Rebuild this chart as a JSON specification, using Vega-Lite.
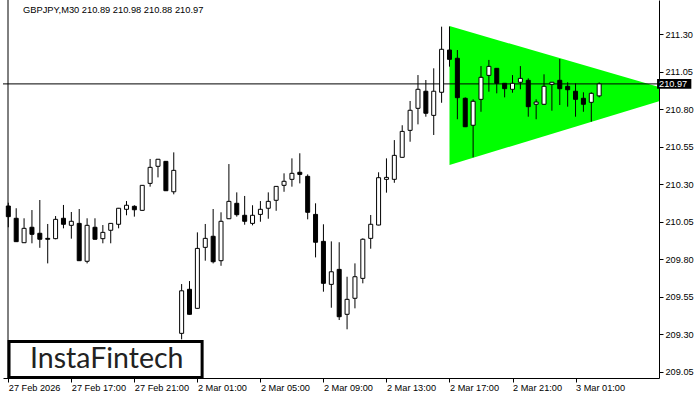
{
  "$schema": "https://vega.github.io/schema/vega-lite/v6.json",
  "width": 656,
  "height": 378,
  "autosize": {"type": "none"},
  "padding": {"left": 3, "top": 0, "right": 41, "bottom": 22},
  "background": "white",
  "config": {"view": {"stroke": null}},
  "datasets": {
    "candles": [
      {"b":0,"o":210.155,"h":210.177,"l":210.013,"c":210.084},
      {"b":1,"o":210.073,"h":210.140,"l":209.915,"c":209.917},
      {"b":2,"o":209.910,"h":210.073,"l":209.908,"c":210.006},
      {"b":3,"o":210.013,"h":210.128,"l":209.906,"c":209.966},
      {"b":4,"o":209.973,"h":210.195,"l":209.876,"c":209.933},
      {"b":5,"o":209.939,"h":210.035,"l":209.772,"c":209.933},
      {"b":6,"o":209.937,"h":210.088,"l":209.933,"c":210.066},
      {"b":7,"o":210.073,"h":210.162,"l":210.006,"c":210.033},
      {"b":8,"o":210.026,"h":210.115,"l":209.937,"c":210.053},
      {"b":9,"o":210.039,"h":210.135,"l":209.788,"c":209.790},
      {"b":10,"o":209.786,"h":210.073,"l":209.772,"c":210.026},
      {"b":11,"o":210.013,"h":210.073,"l":209.931,"c":209.933},
      {"b":12,"o":209.937,"h":210.028,"l":209.906,"c":209.979},
      {"b":13,"o":209.993,"h":210.041,"l":209.906,"c":210.039},
      {"b":14,"o":210.033,"h":210.142,"l":210.006,"c":210.140},
      {"b":15,"o":210.133,"h":210.188,"l":210.093,"c":210.160},
      {"b":16,"o":210.153,"h":210.160,"l":210.084,"c":210.130},
      {"b":17,"o":210.126,"h":210.295,"l":210.124,"c":210.293},
      {"b":18,"o":210.306,"h":210.469,"l":210.284,"c":210.413},
      {"b":19,"o":210.420,"h":210.469,"l":210.346,"c":210.467},
      {"b":20,"o":210.453,"h":210.455,"l":210.255,"c":210.257},
      {"b":21,"o":210.250,"h":210.513,"l":210.233,"c":210.393},
      {"b":22,"o":209.305,"h":209.634,"l":209.265,"c":209.589},
      {"b":23,"o":209.599,"h":209.654,"l":209.430,"c":209.432},
      {"b":24,"o":209.472,"h":209.979,"l":209.470,"c":209.872},
      {"b":25,"o":209.879,"h":210.035,"l":209.790,"c":209.939},
      {"b":26,"o":209.953,"h":210.135,"l":209.772,"c":209.783},
      {"b":27,"o":209.790,"h":210.113,"l":209.756,"c":210.053},
      {"b":28,"o":210.070,"h":210.435,"l":210.068,"c":210.186},
      {"b":29,"o":210.173,"h":210.246,"l":210.084,"c":210.097},
      {"b":30,"o":210.093,"h":210.222,"l":210.030,"c":210.053},
      {"b":31,"o":210.039,"h":210.160,"l":210.026,"c":210.093},
      {"b":32,"o":210.099,"h":210.188,"l":210.050,"c":210.133},
      {"b":33,"o":210.140,"h":210.246,"l":210.070,"c":210.186},
      {"b":34,"o":210.193,"h":210.288,"l":210.123,"c":210.286},
      {"b":35,"o":210.293,"h":210.373,"l":210.250,"c":210.320},
      {"b":36,"o":210.333,"h":210.473,"l":210.284,"c":210.373},
      {"b":37,"o":210.380,"h":210.507,"l":210.306,"c":210.366},
      {"b":38,"o":210.353,"h":210.366,"l":210.066,"c":210.113},
      {"b":39,"o":210.099,"h":210.173,"l":209.812,"c":209.913},
      {"b":40,"o":209.919,"h":210.033,"l":209.583,"c":209.639},
      {"b":41,"o":209.632,"h":209.919,"l":209.476,"c":209.716},
      {"b":42,"o":209.732,"h":209.913,"l":209.394,"c":209.416},
      {"b":43,"o":209.432,"h":209.683,"l":209.332,"c":209.532},
      {"b":44,"o":209.539,"h":209.772,"l":209.472,"c":209.683},
      {"b":45,"o":209.672,"h":209.939,"l":209.639,"c":209.933},
      {"b":46,"o":209.939,"h":210.095,"l":209.870,"c":210.033},
      {"b":47,"o":210.028,"h":210.380,"l":210.026,"c":210.344},
      {"b":48,"o":210.333,"h":210.473,"l":210.244,"c":210.346},
      {"b":49,"o":210.333,"h":210.595,"l":210.310,"c":210.493},
      {"b":50,"o":210.480,"h":210.694,"l":210.478,"c":210.653},
      {"b":51,"o":210.660,"h":210.856,"l":210.584,"c":210.794},
      {"b":52,"o":210.807,"h":211.029,"l":210.700,"c":210.934},
      {"b":53,"o":210.921,"h":210.996,"l":210.751,"c":210.774},
      {"b":54,"o":210.760,"h":211.074,"l":210.629,"c":210.921},
      {"b":55,"o":210.914,"h":211.352,"l":210.844,"c":211.201},
      {"b":56,"o":211.196,"h":211.353,"l":211.085,"c":211.134},
      {"b":57,"o":211.141,"h":211.196,"l":210.734,"c":210.878},
      {"b":58,"o":210.874,"h":210.880,"l":210.682,"c":210.684},
      {"b":59,"o":210.694,"h":210.867,"l":210.480,"c":210.854},
      {"b":60,"o":210.867,"h":211.089,"l":210.784,"c":211.014},
      {"b":61,"o":211.027,"h":211.130,"l":210.918,"c":211.087},
      {"b":62,"o":211.074,"h":211.076,"l":210.907,"c":210.974},
      {"b":63,"o":210.974,"h":210.976,"l":210.880,"c":210.938},
      {"b":64,"o":210.934,"h":211.029,"l":210.911,"c":210.974},
      {"b":65,"o":210.981,"h":211.089,"l":210.934,"c":211.007},
      {"b":66,"o":210.994,"h":211.007,"l":210.751,"c":210.818},
      {"b":67,"o":210.834,"h":210.867,"l":210.734,"c":210.849},
      {"b":68,"o":210.834,"h":211.034,"l":210.832,"c":210.954},
      {"b":69,"o":210.967,"h":210.983,"l":210.791,"c":210.981},
      {"b":70,"o":210.994,"h":211.136,"l":210.829,"c":210.938},
      {"b":71,"o":210.954,"h":210.981,"l":210.818,"c":210.931},
      {"b":72,"o":210.921,"h":210.974,"l":210.751,"c":210.867},
      {"b":73,"o":210.874,"h":210.914,"l":210.784,"c":210.834},
      {"b":74,"o":210.847,"h":210.914,"l":210.718,"c":210.907},
      {"b":75,"o":210.89,"h":210.98,"l":210.88,"c":210.97}
    ],
    "triangle": [
      {"b":56,"top":211.356,"bot":210.429},
      {"b":85.6,"top":210.903,"bot":210.903}
    ],
    "logo": [
      {"b1":0.09,"b2":24.6,"p1":209.010,"p2":209.250,"bc":12.5,"pc":209.134,"label":"InstaFintech"}
    ],
    "header": [
      {"b":1.875,"p":211.463,"label":"GBPJPY,M30  210.89 210.98 210.88 210.97"}
    ],
    "price": [
      {"b1":82.35,"b2":86.7,"p1":210.938,"p2":211.002,"bt":82.6,"p":210.97,"label":"210.97"}
    ],
    "frame": [
      {"x0":-0.04,"pl":210.97}
    ]
  },
  "encoding": {
    "x": {
      "type": "quantitative",
      "scale": {"domain": [-0.04, 81.96], "nice": false, "zero": false},
      "axis": {
        "title": null,
        "values": [0, 8, 16, 24, 32, 40, 48, 56, 64, 72],
        "labelExpr": "datum.value == 0 ? '27 Feb 2026' : datum.value == 8 ? '27 Feb 17:00' : datum.value == 16 ? '27 Feb 21:00' : datum.value == 24 ? '2 Mar 01:00' : datum.value == 32 ? '2 Mar 05:00' : datum.value == 40 ? '2 Mar 09:00' : datum.value == 48 ? '2 Mar 13:00' : datum.value == 56 ? '2 Mar 17:00' : datum.value == 64 ? '2 Mar 21:00' : '3 Mar 01:00'",
        "grid": false,
        "domainColor": "black",
        "domainWidth": 1,
        "tickColor": "black",
        "tickSize": 4,
        "labelAlign": "left",
        "labelBaseline": "top",
        "labelPadding": 1,
        "labelFont": "Liberation Sans",
        "labelFontSize": 9.2,
        "labelColor": "black",
        "labelOverlap": false,
        "labelFlush": false
      }
    },
    "y": {
      "type": "quantitative",
      "scale": {"domain": [209.007, 211.530], "nice": false, "zero": false},
      "axis": {
        "title": null,
        "orient": "right",
        "values": [209.05, 209.30, 209.55, 209.80, 210.05, 210.30, 210.55, 210.80, 211.05, 211.30],
        "format": ".2f",
        "grid": false,
        "domainColor": "black",
        "domainWidth": 1,
        "tickColor": "black",
        "tickSize": 4,
        "labelPadding": 2,
        "labelFont": "Liberation Sans",
        "labelFontSize": 9.2,
        "labelColor": "black",
        "labelOverlap": false,
        "labelFlush": false
      }
    }
  },
  "layer": [
    {
      "data": {"name": "triangle"},
      "mark": {"type": "area", "color": "#00FF00", "clip": true, "opacity": 1},
      "encoding": {
        "x": {"field": "b"},
        "y": {"field": "top"},
        "y2": {"field": "bot"}
      }
    },
    {
      "data": {"name": "frame"},
      "mark": {"type": "rule", "color": "black", "strokeWidth": 1},
      "encoding": {"x": {"field": "x0"}, "y": null}
    },
    {
      "data": {"name": "frame"},
      "mark": {"type": "rule", "color": "black", "strokeWidth": 1},
      "encoding": {"y": {"field": "pl"}, "x": null}
    },
    {
      "data": {"name": "candles"},
      "mark": {"type": "rule", "color": "black", "strokeWidth": 1, "clip": true},
      "encoding": {
        "x": {"field": "b"},
        "y": {"field": "l"},
        "y2": {"field": "h"}
      }
    },
    {
      "data": {"name": "candles"},
      "mark": {"type": "bar", "width": 4, "stroke": "black", "strokeWidth": 1, "clip": true},
      "encoding": {
        "x": {"field": "b"},
        "y": {"field": "o"},
        "y2": {"field": "c"},
        "fill": {"condition": {"test": "datum.c >= datum.o", "value": "white"}, "value": "black"}
      }
    },
    {
      "data": {"name": "logo"},
      "mark": {"type": "rect", "fill": "white", "stroke": "black", "strokeWidth": 3},
      "encoding": {
        "x": {"field": "b1"},
        "x2": {"field": "b2"},
        "y": {"field": "p1"},
        "y2": {"field": "p2"}
      }
    },
    {
      "data": {"name": "logo"},
      "mark": {"type": "text", "font": "Lato", "fontSize": 28.5, "fontWeight": 400, "color": "#222222", "align": "center", "baseline": "middle"},
      "encoding": {
        "x": {"field": "bc"},
        "y": {"field": "pc"},
        "text": {"field": "label", "type": "nominal"}
      }
    },
    {
      "data": {"name": "header"},
      "mark": {"type": "text", "font": "Liberation Sans", "fontSize": 9.3, "color": "black", "align": "left", "baseline": "middle"},
      "encoding": {
        "x": {"field": "b"},
        "y": {"field": "p"},
        "text": {"field": "label", "type": "nominal"}
      }
    },
    {
      "data": {"name": "price"},
      "mark": {"type": "rect", "fill": "black", "clip": false},
      "encoding": {
        "x": {"field": "b1"},
        "x2": {"field": "b2"},
        "y": {"field": "p1"},
        "y2": {"field": "p2"}
      }
    },
    {
      "data": {"name": "price"},
      "mark": {"type": "text", "font": "Liberation Sans", "fontSize": 9.2, "color": "white", "align": "left", "baseline": "middle", "clip": false},
      "encoding": {
        "x": {"field": "bt"},
        "y": {"field": "p"},
        "text": {"field": "label", "type": "nominal"}
      }
    }
  ]
}
